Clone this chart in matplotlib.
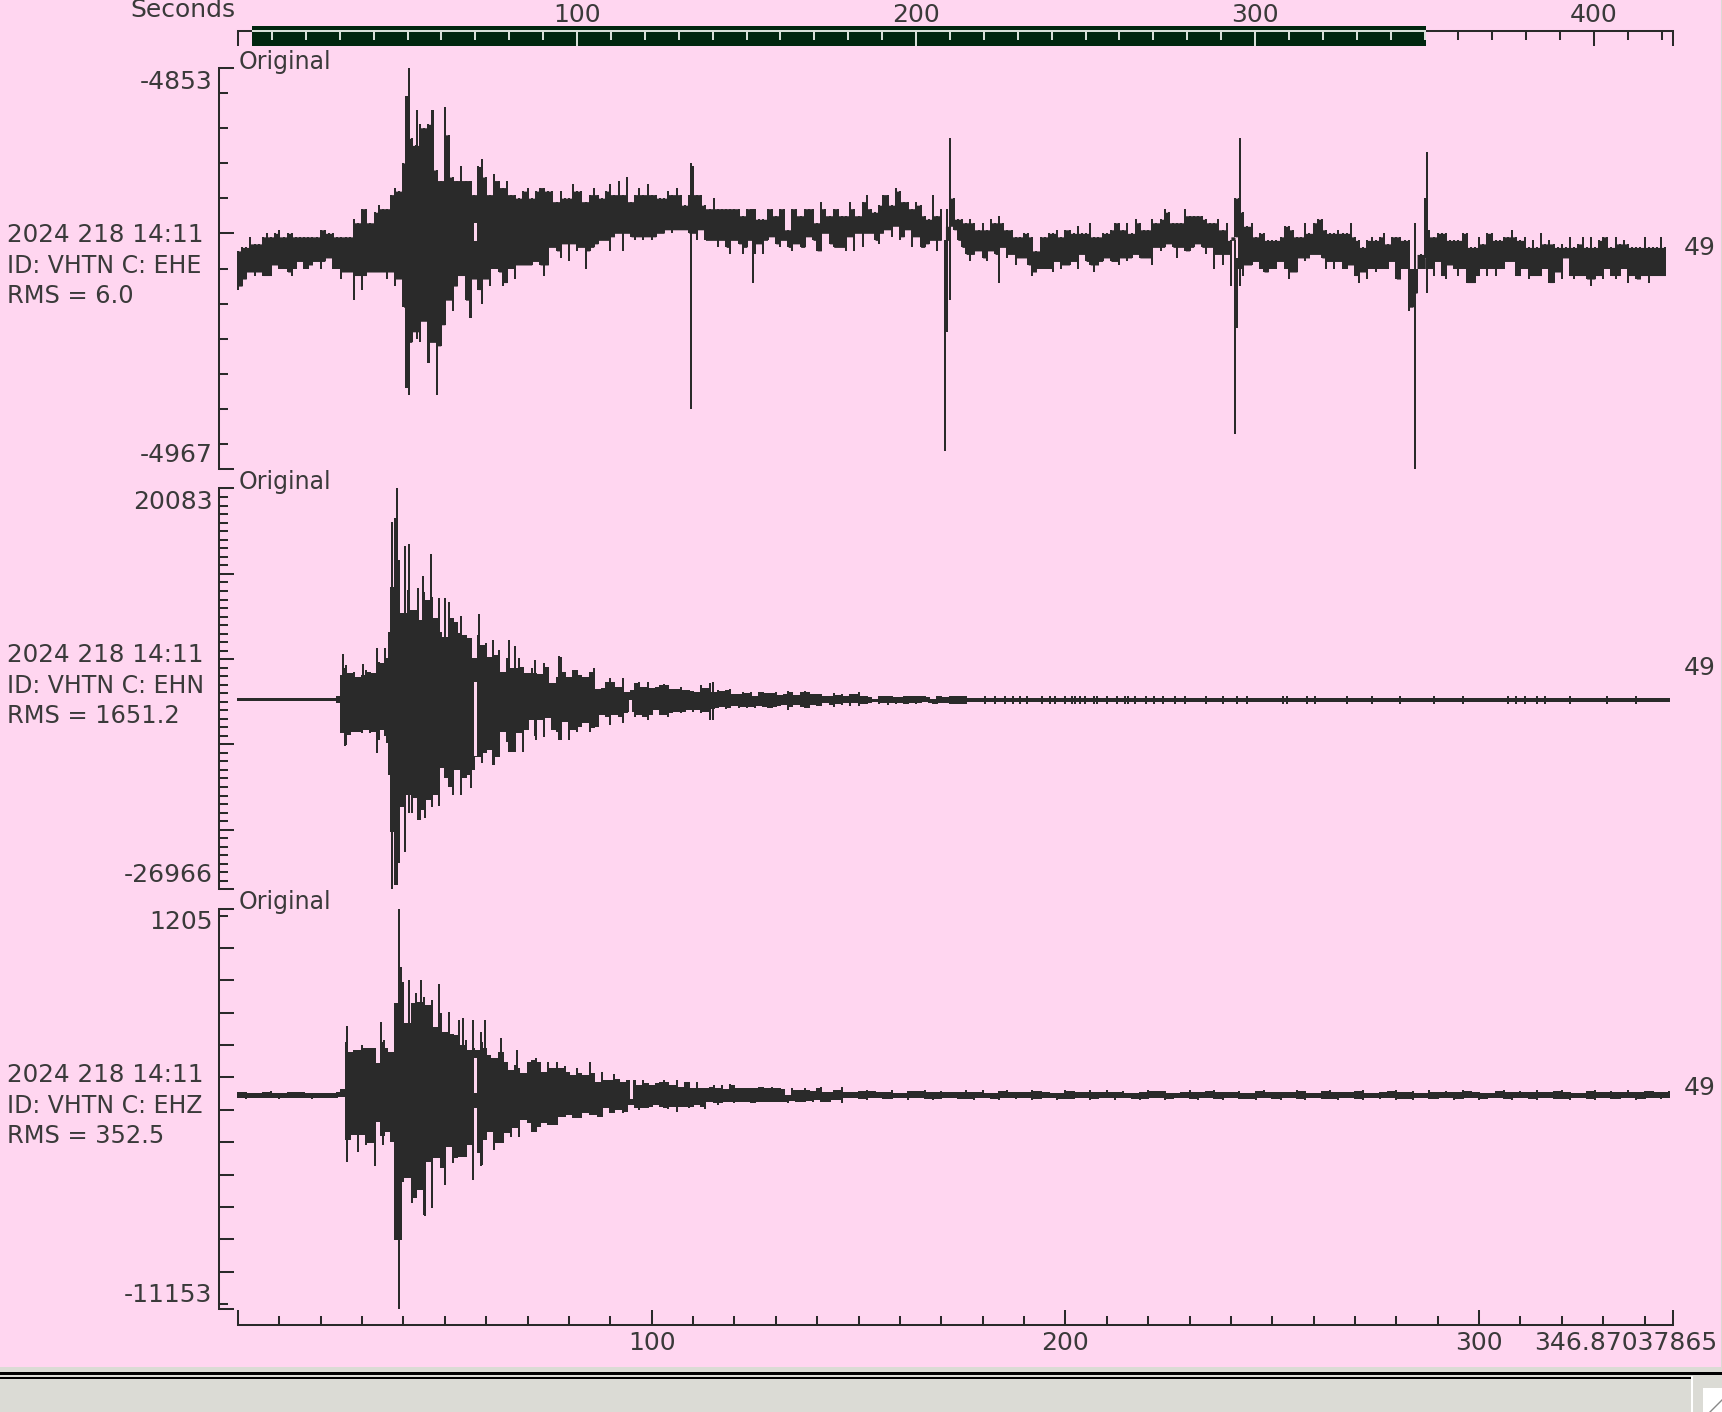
import numpy as np
import matplotlib
matplotlib.use("Agg")
import matplotlib.pyplot as plt
from matplotlib.patches import Rectangle

W, H = 1722, 1412
PINK = "#ffd6f0"
INK = "#2a2a2a"
TXT = "#3a3a3a"
TRACE_LW = 1.44

plt.rcParams["font.family"] = "DejaVu Sans"
FS = 18
FS_WORD = 17

# ---- EHE trace, one hi/lo pair per second ----
ehe_hi = [-4905,-4904,-4904,-4901,-4903,-4903,-4901,-4900,-4901,-4900,-4899,-4901,-4900,-4900,-4901,-4901,-4901,-4901,-4901,-4901,
 -4899,-4899,-4900,-4900,-4901,-4901,-4901,-4901,-4896,-4897,-4893,-4893,-4897,-4894,-4892,-4893,-4893,-4889,-4887,-4888,
 -4880,-4861,-4873,-4875,-4869,-4870,-4869,-4865,-4882,-4885,-4864,-4872,-4884,-4885,-4881,-4885,-4885,-4889,-4881,-4879,
 -4884,-4889,-4883,-4885,-4887,-4885,-4889,-4889,-4890,-4888,-4887,-4890,-4888,-4887,-4887,-4888,-4888,-4891,-4888,-4890,
 -4890,-4886,-4888,-4888,-4891,-4889,-4887,-4889,-4890,-4888,-4886,-4889,-4885,-4889,-4884,-4891,-4889,-4887,-4889,-4886,
 -4889,-4889,-4890,-4890,-4888,-4889,-4887,-4889,-4892,-4889,-4881,-4889,-4889,-4892,-4893,-4890,-4893,-4893,-4893,-4893,
 -4893,-4893,-4895,-4893,-4893,-4893,-4896,-4896,-4893,-4893,-4895,-4893,-4893,-4899,-4893,-4893,-4895,-4893,-4893,-4893,
 -4897,-4891,-4893,-4895,-4893,-4893,-4895,-4895,-4891,-4893,-4895,-4891,-4889,-4893,-4894,-4892,-4889,-4889,-4892,-4887,
 -4888,-4891,-4891,-4893,-4891,-4892,-4895,-4896,-4889,-4895,-4893,-4902,-4884,-4890,-4896,-4896,-4897,-4896,-4897,-4899,
 -4897,-4899,-4896,-4897,-4897,-4897,-4899,-4899,-4901,-4901,-4900,-4900,-4901,-4905,-4901,-4901,-4900,-4900,-4899,-4901,
 -4899,-4899,-4900,-4898,-4900,-4900,-4897,-4901,-4901,-4900,-4900,-4899,-4897,-4897,-4899,-4897,-4900,-4896,-4897,-4899,
 -4899,-4896,-4897,-4896,-4893,-4894,-4897,-4897,-4897,-4893,-4895,-4895,-4895,-4895,-4896,-4897,-4897,-4896,-4899,-4897,
 -4902,-4890,-4890,-4894,-4898,-4897,-4901,-4900,-4900,-4902,-4902,-4902,-4901,-4898,-4898,-4899,-4901,-4901,-4897,-4900,
 -4897,-4896,-4896,-4899,-4900,-4900,-4899,-4900,-4900,-4897,-4901,-4902,-4904,-4902,-4901,-4902,-4901,-4900,-4903,-4901,
 -4901,-4901,-4902,-4902,-4910,-4910,-4910,-4890,-4899,-4901,-4900,-4900,-4900,-4902,-4902,-4902,-4900,-4900,-4904,-4904,
 -4901,-4903,-4900,-4900,-4902,-4902,-4901,-4901,-4899,-4901,-4902,-4901,-4904,-4902,-4904,-4900,-4903,-4902,-4903,-4904,
 -4903,-4904,-4901,-4904,-4903,-4901,-4904,-4901,-4904,-4902,-4901,-4901,-4904,-4901,-4903,-4902,-4903,-4904,-4904,-4904,
 -4901,-4904,-4904,-4904,-4901,-4904]
ehe_lo = [-4916,-4915,-4913,-4911,-4912,-4911,-4912,-4912,-4912,-4909,-4910,-4910,-4911,-4912,-4910,-4908,-4910,-4910,-4909,-4908,
 -4910,-4908,-4907,-4910,-4910,-4913,-4911,-4911,-4919,-4912,-4916,-4912,-4911,-4911,-4911,-4911,-4913,-4911,-4915,-4913,
 -4921,-4944,-4931,-4928,-4931,-4925,-4937,-4931,-4946,-4932,-4926,-4919,-4922,-4915,-4912,-4919,-4924,-4913,-4916,-4920,
 -4913,-4915,-4910,-4911,-4915,-4914,-4910,-4913,-4909,-4909,-4909,-4909,-4908,-4909,-4912,-4909,-4904,-4905,-4907,-4903,
 -4908,-4903,-4905,-4904,-4910,-4905,-4904,-4903,-4902,-4902,-4905,-4901,-4900,-4905,-4900,-4901,-4902,-4901,-4902,-4901,
 -4902,-4901,-4900,-4900,-4899,-4900,-4899,-4899,-4899,-4900,-4900,-4902,-4899,-4902,-4902,-4902,-4904,-4902,-4904,-4906,
 -4902,-4903,-4906,-4904,-4902,-4906,-4903,-4906,-4902,-4901,-4903,-4904,-4902,-4904,-4905,-4903,-4904,-4904,-4901,-4902,
 -4905,-4905,-4900,-4903,-4904,-4904,-4904,-4905,-4901,-4905,-4900,-4904,-4900,-4900,-4902,-4903,-4900,-4899,-4901,-4898,
 -4902,-4901,-4899,-4904,-4901,-4904,-4904,-4903,-4902,-4905,-4902,-4921,-4898,-4899,-4902,-4904,-4906,-4908,-4906,-4905,
 -4907,-4908,-4905,-4906,-4906,-4904,-4907,-4906,-4909,-4907,-4907,-4909,-4912,-4911,-4910,-4910,-4910,-4911,-4908,-4910,
 -4909,-4909,-4908,-4910,-4906,-4908,-4909,-4911,-4909,-4908,-4907,-4908,-4908,-4909,-4907,-4908,-4907,-4906,-4907,-4907,
 -4907,-4909,-4904,-4905,-4904,-4903,-4904,-4907,-4904,-4905,-4905,-4904,-4903,-4904,-4906,-4904,-4910,-4906,-4909,-4906,
 -4915,-4901,-4910,-4912,-4909,-4909,-4908,-4910,-4911,-4911,-4910,-4910,-4908,-4910,-4913,-4911,-4911,-4907,-4908,-4907,
 -4906,-4906,-4907,-4910,-4908,-4910,-4908,-4910,-4910,-4909,-4912,-4914,-4911,-4913,-4910,-4911,-4910,-4910,-4910,-4908,
 -4913,-4913,-4910,-4922,-4921,-4917,-4906,-4907,-4910,-4912,-4908,-4912,-4913,-4909,-4910,-4912,-4910,-4914,-4914,-4914,
 -4912,-4910,-4912,-4910,-4912,-4910,-4910,-4908,-4908,-4912,-4912,-4910,-4913,-4912,-4912,-4912,-4910,-4914,-4914,-4911,
 -4913,-4907,-4912,-4913,-4912,-4912,-4913,-4915,-4913,-4912,-4913,-4910,-4912,-4913,-4912,-4910,-4914,-4912,-4913,-4913,
 -4912,-4914,-4912,-4912,-4912,-4912]
ehe_t = list(range(len(ehe_hi)))
ehe_spike_t = [40.5, 41.3, 43.3, 47.1, 46.2, 48.1, 50.0, 56.3, 109.5, 124.4, 170.9, 171.5, 172.0, 184.0, 241.0, 241.5, 242.1, 284.5, 287.4]
ehe_spike_hi = [-4861,-4853,-4865,-4865,-4880,-4890,-4864,-4885,-4880,-4893,-4902,-4893,-4873,-4895,-4902,-4907,-4873,-4897,-4877]
ehe_spike_lo = [-4944,-4946,-4930,-4915,-4937,-4946,-4900,-4924,-4950,-4914,-4962,-4928,-4919,-4914,-4957,-4927,-4915,-4967,-4917]
ehe_gap_t = [57.2]
ehe_gap_hi = [-4897]
ehe_gap_lo = [-4902]

# ---- EHN trace ----
ehn_t = [0,21,22,23,24,25,26,27,28,29,30,31,32,33,34,35,36,36.5] + list(range(37,177)) + [177,346]
ehn_hi = [-4500,-4500,-4500,-4500,-4315,-1852,-679,-1657,-1461,-2047,-1852,-1266,-1461,-1657,-288,-484,103,3231,
 8510,16525,11638,5382,8119,5773,5773,4600,7923,6945,7337,4795,3231,2645,6750,4795,4326,3036,2840,2449,103,2840,1667,1863,299,495,1081,
 -1461,103,-1070,-1070,103,-874,-1657,-1070,-1657,-1774,-484,-874,-2830,-2047,299,-1461,-2047,-1266,-1266,-1852,-2047,-1461,-1070,-3494,-3416,-2634,
 -2243,-2634,-3221,-2243,-3807,-3612,-2830,-2712,-3221,-2712,-3416,-3221,-3025,-2947,-3025,-3494,-3494,-3221,-3612,-3612,-3729,-3807,-3025,-3416,-2830,
 -3807,-3612,-3729,-3612,-3494,-4120,-4120,-3885,-4003,-3807,-4276,-3885,-3885,-4003,-4003,-3885,-4198,-4120,-3729,-3885,-4198,-3885,-3729,-3885,-4120,-4120,
 -4081,-4316,-4316,-4003,-4199,-4081,-4316,-4120,-4120,-3886,-4316,-4316,-4394,-4628,-4355,-4355,-4355,-4355,-4472,-4394,-4316,-4316,-4316,-4316,-4316,-4316,
 -4472,-4628,-4316,-4316,-4472,-4316,-4316,-4316,-4316,-4316,-4550,-4550]
ehn_lo = [-4950,-4950,-4950,-4950,-5176,-8694,-10063,-8890,-8499,-8499,-8694,-8303,-8694,-8499,-9477,-8303,-9868,-13582,
 -20229,-26485,-23944,-17297,-15928,-18079,-16319,-18861,-17688,-16515,-17297,-15928,-12800,-13973,-14950,-15928,-12996,-15928,-13973,-13582,-12996,-11432,-12214,-11041,-10650,-12409,-11432,
 -8499,-9672,-10845,-10845,-8694,-10845,-8303,-7131,-9477,-7131,-9086,-6935,-8303,-8499,-9477,-7326,-9477,-8303,-8499,-7913,-7522,-8499,-8108,-7913,-6544,-6740,
 -7717,-6544,-6740,-7522,-6349,-6153,-6740,-6544,-6740,-7131,-6544,-5958,-6544,-6544,-6740,-6349,-6153,-6349,-6153,-5958,-6153,-5958,-6349,-6153,-7131,
 -5840,-5762,-5567,-5840,-5762,-5449,-5684,-5567,-5684,-5567,-5684,-5449,-5567,-5684,-5684,-5567,-5449,-5371,-5958,-5567,-5371,-5567,-5684,-5684,-5371,-5449,
 -5450,-5176,-5372,-5567,-5254,-5411,-5098,-5450,-5176,-5450,-5254,-5254,-5176,-4980,-5254,-5176,-5372,-5176,-5254,-5176,-5254,-5254,-5176,-5254,-5176,-4980,
 -5176,-5254,-5254,-5176,-5176,-5254,-5254,-5254,-5254,-5254,-5020,-5020]
ehn_spike_t = [25.3,25.8,30.2,33.6,35.5,37.3,38.4,40.4,41.3,43.6,44.6,45.2,46.7,48.6,50.0,53.9,56.3,58.3,61.6,65.5,67.0,71.8,77.6,114.7]
ehn_spike_hi = [573,-1000,-562,1276,1276,16134,20083,13280,13475,8314,9800,7000,12302,7141,7141,5069,2449,5264,2254,2254,1550,-92,377,-2712]
ehn_spike_lo = [-8000,-10140,-8000,-11040,-9000,-26966,-26485,-22575,-18000,-18861,-16000,-18587,-16000,-17179,-13000,-15928,-15068,-11000,-12409,-10845,-10845,-9000,-9500,-7131]
ehn_bump_t = [180.6,183,185.4,187.3,189,190.8,194.3,196.3,197.5,200,201.5,202.3,203.5,204.8,206.8,207.7,210,212.4,214.4,215.2,216.9,219.5,221.3,223.5,226.5,229,234,238,241.4,243.8,
 252.7,253.5,258.4,260.4,268,274,281,289,296,307,309,311,314,316,322,331,338]
ehn_gap_t = [57.3, 94.8]
ehn_gap_hi = [-2634, -4785]
ehn_gap_lo = [-11236, -6153]

# ---- EHZ trace ----
ehz_t = list(range(0,22,2)) + list(range(22,144)) + list(range(144,348,2))
ehz_hi = [-4460,-4440,-4470,-4450,-4430,-4470,-4450,-4460,-4440,-4470,-4480,
 -4490,-4490,-4460,-4357,-2894,-3203,-3152,-3152,-2997,-3100,-3100,-3100,-3564,-2894,-3100,-3203,-1710,-62,-1040,-2328,-1710,-1400,-1658,-1504,-1761,-1607,-2431,-2019,-2585,-2585,-2667,-2688,-2997,-2843,-3152,-3100,-3152,-2894,-3100,-3306,-3388,-3203,-3203,-3512,-3770,-3615,-3718,-3873,-3512,-3460,-3409,-3512,-3821,-3533,-3718,-3533,-3718,-3636,-3821,-3924,-3718,-3873,-3924,-3512,-3873,-4130,-3842,-4079,-4079,-3903,-4048,-4130,-4079,-4079,-4079,-4233,-4079,-4182,-4233,-4182,-4130,-4079,-4130,-4233,-4079,-4285,-4151,-4151,-4336,-4151,-4315,-4315,-4285,-4233,-4336,-4233,-4357,-4212,-4233,-4336,-4336,-4336,-4315,-4336,-4285,-4285,-4315,-4285,-4336,-4336,-4357,-4542,-4336,-4388,-4388,-4336,-4388,-4419,-4315,-4285,-4439,-4460,
 -4390,-4300,-4440,-4420,-4390,-4430,-4440,-4400,-4470,-4420,-4430,-4390,-4440,-4430,-4460,-4450,-4390,-4440,-4400,-4470,-4430,-4390,-4450,-4440,-4400,-4420,-4450,-4470,-4400,-4430,-4440,-4400,-4460,-4390,-4440,-4430,-4470,-4440,-4390,-4430,-4420,-4470,-4450,-4400,-4440,-4430,-4390,-4460,-4440,-4420,-4470,-4430,-4400,-4450,-4440,-4460,-4400,-4430,-4470,-4420,-4390,-4440,-4450,-4430,-4400,-4470,-4440,-4420,-4400,-4450,-4430,-4470,-4390,-4440,-4420,-4460,-4400,-4430,-4450,-4470,-4420,-4390,-4440,-4430,-4460,-4400,-4450,-4420,-4390,-4440,-4470,-4430,-4400,-4450,-4420,-4440,-4390,-4460,-4430,-4410,-4450,-4430]
ehz_lo = [-4630,-4650,-4620,-4640,-4620,-4650,-4630,-4640,-4620,-4650,-4620,
 -4624,-4624,-4624,-4594,-5932,-5932,-5778,-6293,-5778,-6087,-6036,-6705,-5366,-6087,-5675,-5984,-9023,-9023,-7220,-7117,-7890,-7735,-7478,-8250,-6602,-7993,-6499,-6808,-7323,-6139,-6654,-6499,-6448,-6448,-6087,-6087,-6345,-6705,-5932,-5675,-6241,-6036,-6036,-5727,-5830,-5572,-5830,-5315,-5417,-5675,-5675,-5521,-5417,-5469,-5469,-5469,-5212,-5212,-5160,-5263,-5263,-5263,-5109,-5160,-5160,-5212,-5212,-4954,-5109,-5109,-5006,-5109,-5057,-4851,-4954,-5006,-4954,-4954,-4903,-4851,-4903,-4954,-4975,-4903,-5057,-4903,-4903,-4933,-4903,-4851,-4903,-4975,-4748,-4800,-4851,-4800,-4748,-4769,-4800,-4769,-4748,-4769,-4800,-4800,-4769,-4769,-4748,-4748,-4769,-4748,-4748,-4800,-4728,-4748,-4748,-4748,-4728,-4748,-4697,-4748,-4748,-4748,
 -4700,-4800,-4640,-4660,-4690,-4640,-4650,-4670,-4640,-4690,-4640,-4660,-4700,-4650,-4640,-4680,-4650,-4700,-4640,-4650,-4690,-4640,-4660,-4640,-4700,-4650,-4640,-4690,-4650,-4660,-4640,-4700,-4650,-4640,-4690,-4640,-4650,-4690,-4660,-4640,-4700,-4650,-4640,-4660,-4690,-4640,-4650,-4700,-4640,-4660,-4650,-4690,-4640,-4660,-4700,-4640,-4650,-4690,-4640,-4660,-4650,-4700,-4640,-4650,-4690,-4640,-4660,-4640,-4700,-4650,-4690,-4640,-4650,-4660,-4640,-4700,-4650,-4640,-4690,-4650,-4640,-4660,-4700,-4640,-4650,-4690,-4640,-4660,-4650,-4700,-4640,-4650,-4690,-4640,-4660,-4650,-4640,-4690,-4650,-4640,-4660,-4640]
ehz_spike_t = [26.3,34.6,33.1,35.4,39.0,39.5,41.3,44.2,45.2,47.0,48.6,51.0,53.4,54.3,56.8,58.7,59.7,63.6,67.4,85.2]
ehz_spike_hi = [-2410,-2297,-3100,-2843,1205,-577,-989,-989,-1800,-1607,-1122,-1988,-2224,-2173,-2224,-2600,-2224,-2791,-3152,-3512]
ehz_spike_lo = [-6602,-5800,-6726,-5800,-11153,-9023,-7000,-7000,-8271,-8023,-6400,-6139,-6400,-6400,-7168,-6726,-5900,-5800,-5400,-5160]
ehz_gap_t = [57.3, 57.3, 95.0]
ehz_gap_hi = [-3409, -4954, -4078]
ehz_gap_lo = [-4439, -6087, -4645]

# ---- axis and label data ----
t_end = 346.87037865
top_end = 423.3
bar_start, bar_end = 4.13, 350.4
panel_names = ["EHE", "EHN", "EHZ"]
panel_rms = ["6.0", "1651.2", "352.5"]
panel_ylim = [(-4967, -4853), (-26966, 20083), (-11153, 1205)]
panel_top = [68, 488, 909]
panel_bot = [469, 889, 1309]
y_major = [[-4853,-4900,-4967], [20083,10000,0,-10000,-20000,-26966], [1205,0,-1000,-2000,-3000,-4000,-5000,-6000,-7000,-8000,-9000,-10000,-11153]]
y_minor = [list(range(-4960,-4853,10)), list(range(-26000,20000,1000)), [1000,-11000]]
y_labels = [("-4853",89,"-4967",462), ("20083",509,"-26966",882), ("1205",929,"-11153",1302)]


def px_pos(x0, x1, y0, y1):
    return [x0/W, 1-y1/H, (x1-x0)/W, (y1-y0)/H]


def draw_trace(ax, t, hi, lo, sp_t, sp_hi, sp_lo, gap_t=None, gap_hi=None, gap_lo=None):
    t, hi, lo = np.array(t, float), np.array(hi, float), np.array(lo, float)
    # solid core under the single columns
    core_hi = np.append(np.minimum(hi[:-1], hi[1:]), hi[-1])
    core_lo = np.append(np.maximum(lo[:-1], lo[1:]), lo[-1])
    ax.fill_between(t, core_lo, core_hi, step="post", color=INK, lw=0, antialiased=False, clip_on=False)
    ax.vlines(t, lo, hi, color=INK, lw=TRACE_LW, antialiased=False, clip_on=False)
    ax.vlines(sp_t, sp_lo, sp_hi, color=INK, lw=TRACE_LW, antialiased=False, clip_on=False)
    if gap_t:
        ax.vlines(gap_t, gap_lo, gap_hi, color=PINK, lw=1.0, antialiased=False, clip_on=False)


fig = plt.figure(figsize=(W/100, H/100), dpi=100, facecolor=PINK)

# background axes in pixels, for window chrome and free labels
bg = fig.add_axes([0, 0, 1, 1], zorder=5)
bg.set_xlim(0, W)
bg.set_ylim(H, 0)
bg.axis("off")
bg.add_patch(Rectangle((0, 1367), W, H-1367, color="#dbdbd5", lw=0))
bg.add_patch(Rectangle((0, 1372), W, 2.5, color="black", lw=0))
bg.add_patch(Rectangle((0, 1376.5), 1691, 2, color="black", lw=0))
bg.add_patch(Rectangle((1691, 1376), 1.5, H-1376, color="white", lw=0))
bg.add_patch(Rectangle((1703, 1388), W-1703, H-1388, color="white", lw=0))
bg.plot([1710, 1722], [1412, 1400], color="#888888", lw=1)
bg.add_patch(Rectangle((W-1.5, 0), 1.5, 1367, color="#dbdbd5", lw=0))

traces = [
    (ehe_t, ehe_hi, ehe_lo, ehe_spike_t, ehe_spike_hi, ehe_spike_lo, ehe_gap_t, ehe_gap_hi, ehe_gap_lo),
    (ehn_t, ehn_hi, ehn_lo, ehn_spike_t, ehn_spike_hi, ehn_spike_lo, ehn_gap_t, ehn_gap_hi, ehn_gap_lo),
    (ehz_t, ehz_hi, ehz_lo, ehz_spike_t, ehz_spike_hi, ehz_spike_lo, ehz_gap_t, ehz_gap_hi, ehz_gap_lo),
]

for i, tr in enumerate(traces):
    ax = fig.add_axes(px_pos(238, 1673, panel_top[i], panel_bot[i]), facecolor="none")
    ax.set_xlim(0, t_end)
    ax.set_ylim(*panel_ylim[i])
    draw_trace(ax, *tr)
    if i == 1:
        ax.vlines(ehn_bump_t, -5250, -4320, color=INK, lw=TRACE_LW, antialiased=False)
    for s in ["top", "right", "bottom"]:
        ax.spines[s].set_visible(False)
    ax.spines["left"].set_position(("outward", 19*0.72))
    ax.spines["left"].set_linewidth(1.45)
    ax.spines["left"].set_color(INK)
    ax.set_yticks(y_major[i])
    ax.set_yticks(y_minor[i], minor=True)
    ax.tick_params(axis="y", which="major", direction="in", length=15*0.72, width=1.45, color=INK, labelleft=False)
    ax.tick_params(axis="y", which="minor", direction="in", length=9*0.72, width=1.45, color=INK)
    if i < 2:
        ax.set_xticks([])
    else:
        ax.spines["bottom"].set_visible(True)
        ax.spines["bottom"].set_position(("outward", 16*0.72))
        ax.spines["bottom"].set_linewidth(1.45)
        ax.spines["bottom"].set_color(INK)
        ax.set_xticks([0, 100, 200, 300, t_end], ["", "100", "200", "300", ""])
        ax.set_xticks([v for v in range(10, 347, 10) if v % 100], minor=True)
        ax.tick_params(axis="x", which="major", direction="in", length=15*0.72, width=1.45, color=INK,
                       labelsize=FS, labelcolor=TXT, pad=4)
        ax.tick_params(axis="x", which="minor", direction="in", length=9*0.72, width=1.45, color=INK)

    off = 420*i
    bg.text(7, 242+off, "2024 218 14:11", fontsize=17.7, color=TXT, va="baseline")
    bg.text(7, 273+off, f"ID: VHTN C: {panel_names[i]}", fontsize=FS_WORD, color=TXT, va="baseline")
    bg.text(7, 303+off, f"RMS = {panel_rms[i]}", fontsize=17.4, color=TXT, va="baseline")
    bg.text(239, 69+off, "Original", fontsize=FS_WORD, color=TXT, va="baseline")
    bg.text(1700, 255+off, "49", fontsize=FS, color=TXT, va="baseline", ha="center")
    lab = y_labels[i]
    bg.text(212.5, lab[1], lab[0], fontsize=FS, color=TXT, va="baseline", ha="right")
    bg.text(212.5, lab[3], lab[2], fontsize=FS, color=TXT, va="baseline", ha="right")

bg.text(1717, 1350, "346.87037865", fontsize=FS, color=TXT, va="baseline", ha="right")
bg.text(236, 17, "Seconds", fontsize=FS, color=TXT, va="baseline", ha="right")

# top seconds axis with the dark selection bar
top = fig.add_axes(px_pos(238, 1673, 26, 46), facecolor="none")
top.set_xlim(0, top_end)
top.set_ylim(0, 1)
top.set_axisbelow(False)
for s in ["left", "right", "bottom"]:
    top.spines[s].set_visible(False)
top.spines["top"].set_position(("axes", 0.75))
top.spines["top"].set_linewidth(1.45)
top.spines["top"].set_color(INK)
top.axvspan(bar_start, bar_end, color="#01260f", lw=0, zorder=1)
top.hlines(0.75, bar_start, bar_end, color="#d9e0d9", lw=1.45, zorder=3)
top.xaxis.set_ticks_position("top")
top.set_xticks([0, 100, 200, 300, 400, top_end], ["", "100", "200", "300", "400", ""])
top.set_xticks([v for v in range(10, 424, 10) if v % 100], minor=True)
top.set_yticks([])
top.tick_params(axis="x", which="major", direction="in", length=15*0.72, width=1.45, color=INK,
                labelsize=FS, labelcolor=TXT, pad=3)
top.tick_params(axis="x", which="minor", direction="in", length=9*0.72, width=1.45, color=INK)
# ticks over the bar are light; minor tick objects do not know their loc before a draw
for loc, tick in zip(top.xaxis.get_majorticklocs(), top.xaxis.get_major_ticks()):
    if bar_start < loc < bar_end:
        tick.tick2line.set_markeredgecolor("#d9e0d9")
for loc, tick in zip(top.xaxis.get_minorticklocs(), top.xaxis.get_minor_ticks()):
    if bar_start < loc < bar_end:
        tick.tick2line.set_markeredgecolor("#d9e0d9")

fig.savefig("out.png", dpi=100, facecolor=PINK)
